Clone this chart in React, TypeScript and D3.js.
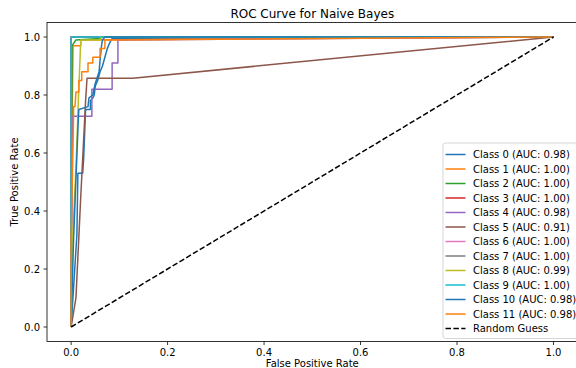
import * as d3 from "d3";
import React from "react";

const classNames = ["Class 0", "Class 1", "Class 2", "Class 3", "Class 4", "Class 5", "Class 6", "Class 7", "Class 8", "Class 9", "Class 10", "Class 11"];
const aucValues = [0.98, 1.0, 1.0, 1.0, 0.98, 0.91, 1.0, 1.0, 0.99, 1.0, 0.98, 0.98];
const colors = ["#1f77b4", "#ff7f0e", "#2ca02c", "#d62728", "#9467bd", "#8c564b", "#e377c2", "#7f7f7f", "#bcbd22", "#17becf", "#1f77b4", "#ff7f0e"];

// [fpr, tpr] pairs per class
const curves: [number, number][][] = [
  [[0, 0], [0.012, 0.32], [0.014, 0.53], [0.024, 0.53], [0.026, 0.58], [0.03, 0.75], [0.04, 0.75], [0.04, 0.78], [0.045, 0.79], [0.048, 0.8], [0.05, 0.83], [0.055, 0.85], [0.06, 0.88], [0.065, 0.9], [0.07, 0.93], [0.075, 0.96], [0.08, 0.98], [0.085, 0.995], [1, 1]],
  [[0, 0], [0, 0.45], [0.004, 0.97], [0.02, 0.97], [0.02, 0.99], [1, 1]],
  [[0, 0], [0.002, 0.97], [0.01, 0.99], [0.06, 0.995], [0.065, 1], [1, 1]],
  [[0, 0], [0, 1], [1, 1]],
  [[0, 0], [0.003, 0.727], [0.043, 0.727], [0.043, 0.82], [0.085, 0.82], [0.085, 0.91], [0.097, 0.91], [0.097, 0.99], [1, 1]],
  [[0, 0], [0.01, 0.1], [0.02, 0.45], [0.03, 0.78], [0.033, 0.858], [0.128, 0.858], [1, 1]],
  [[0, 0], [0, 1], [1, 1]],
  [[0, 0], [0, 1], [1, 1]],
  [[0, 0], [0.003, 0.3], [0.01, 0.55], [0.015, 0.78], [0.02, 0.99], [0.06, 0.99], [0.06, 1], [1, 1]],
  [[0, 0], [0, 1], [1, 1]],
  [[0, 0], [0.005, 0.3], [0.015, 0.72], [0.016, 0.75], [0.035, 0.76], [0.037, 0.79], [0.045, 0.8], [0.05, 0.84], [0.058, 0.88], [0.06, 0.92], [0.063, 0.97], [0.065, 0.99], [0.07, 1], [1, 1]],
  [[0, 0], [0, 0.3], [0.005, 0.72], [0.005, 0.76], [0.008, 0.76], [0.01, 0.81], [0.016, 0.81], [0.016, 0.85], [0.022, 0.85], [0.022, 0.88], [0.035, 0.88], [0.035, 0.91], [0.045, 0.91], [0.045, 0.93], [0.06, 0.93], [0.06, 0.96], [0.07, 0.96], [0.07, 0.99], [1, 1]],
];
const randomGuess: [number, number][] = [[0, 0], [1, 1]];
const ticks = [0, 0.2, 0.4, 0.6, 0.8, 1.0];

export default function App() {
  const width = 576;
  const height = 368;
  const left = 47, right = 577.6, top = 22.5, bottom = 341.5;

  const x = d3.scaleLinear().domain([-0.05, 1.05]).range([left, right]);
  const y = d3.scaleLinear().domain([-0.05, 1.05]).range([bottom, top]);
  const line = d3.line<[number, number]>().x((d) => x(d[0])).y((d) => y(d[1]));

  const font = "DejaVu Sans, sans-serif";
  const legendX = 443, legendY = 143, rowH = 14.5;
  const legendItems = classNames.map((c, i) => ({ label: `${c} (AUC: ${aucValues[i].toFixed(2)})`, color: colors[i], dash: "" }))
    .concat([{ label: "Random Guess", color: "#000", dash: "5.5,2.4" }]);

  return (
    <div style={{ position: "absolute", left: 0, top: 0 }}>
      <svg width={width} height={height} style={{ display: "block", background: "#fff" }}>
        <defs>
          <clipPath id="plot">
            <rect x={left} y={top} width={right - left} height={bottom - top} />
          </clipPath>
        </defs>
        <g clipPath="url(#plot)">
          {curves.map((c, i) => (
            <path key={i} d={line(c) || ""} fill="none" stroke={colors[i]} strokeWidth={1.5} strokeLinejoin="round" />
          ))}
          <path d={line(randomGuess) || ""} fill="none" stroke="#000" strokeWidth={1.5} strokeDasharray="5.5,2.4" />
        </g>
        <rect x={left} y={top} width={right - left} height={bottom - top} fill="none" stroke="#000" strokeWidth={0.8} />

        {ticks.map((t) => (
          <g key={"x" + t}>
            <line x1={x(t)} x2={x(t)} y1={bottom} y2={bottom + 3.5} stroke="#000" strokeWidth={0.8} />
            <text x={x(t)} y={356} textAnchor="middle" fontSize={10} fontFamily={font}>{t.toFixed(1)}</text>
          </g>
        ))}
        {ticks.map((t) => (
          <g key={"y" + t}>
            <line x1={left - 3.5} x2={left} y1={y(t)} y2={y(t)} stroke="#000" strokeWidth={0.8} />
            <text x={40} y={y(t) + 3.6} textAnchor="end" fontSize={10} fontFamily={font}>{t.toFixed(1)}</text>
          </g>
        ))}

        <text x={(left + right) / 2} y={18} textAnchor="middle" fontSize={12} fontFamily={font}>ROC Curve for Naive Bayes</text>
        <text x={(left + right) / 2} y={367} textAnchor="middle" fontSize={10} fontFamily={font}>False Positive Rate</text>
        <text transform={`translate(18,${(top + bottom) / 2}) rotate(-90)`} textAnchor="middle" fontSize={10} fontFamily={font}>True Positive Rate</text>

        <rect x={legendX} y={legendY} width={136} height={195.5} rx={2.5} fill="#fff" fillOpacity={0.8} stroke="#cccccc" strokeWidth={0.8} />
        {legendItems.map((it, i) => (
          <g key={i} transform={`translate(0,${legendY + 11.5 + i * rowH})`}>
            <line x1={445.5} x2={465.5} y1={0} y2={0} stroke={it.color} strokeWidth={1.5} strokeDasharray={it.dash || undefined} />
            <text x={473} y={3.6} fontSize={10} fontFamily={font}>{it.label}</text>
          </g>
        ))}
      </svg>
    </div>
  );
}
